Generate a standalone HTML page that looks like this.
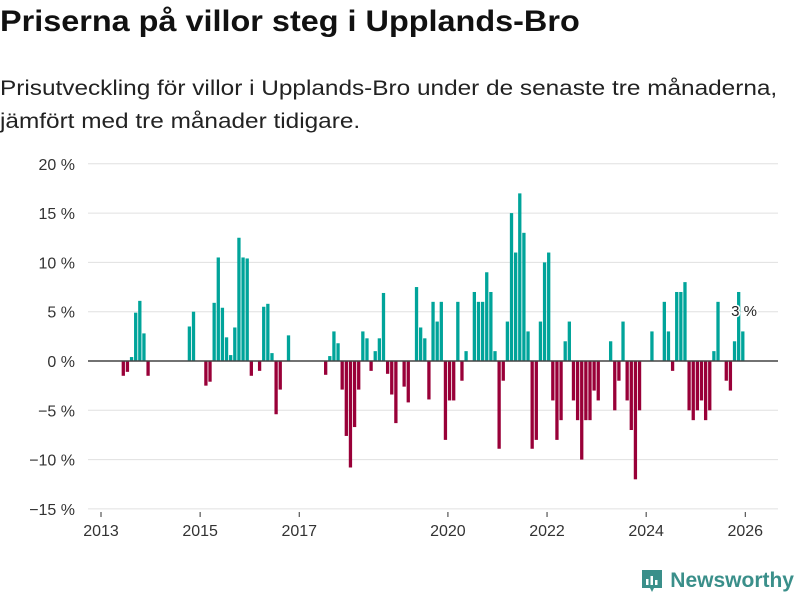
<!DOCTYPE html>
<html><head><meta charset="utf-8"><style>
body{margin:0;width:800px;height:600px;background:#fff;font-family:"Liberation Sans","DejaVu Sans",sans-serif;overflow:hidden;position:relative}
h1{position:absolute;left:0;top:5px;margin:0;font-size:30px;font-weight:bold;color:#111;transform:scaleX(1.08);transform-origin:0 0;white-space:nowrap}
.sub{position:absolute;left:0;margin:0;font-size:21px;color:#222;transform:scaleX(1.16);transform-origin:0 0;white-space:nowrap}
.logo{position:absolute;right:6px;top:568px;font-size:21px;font-weight:bold;color:#3a8f8a;display:flex;align-items:center;gap:6px}
</style></head><body>
<h1>Priserna på villor steg i Upplands-Bro</h1>
<div class="sub" style="top:77px">Prisutveckling för villor i Upplands-Bro under de senaste tre månaderna,</div>
<div class="sub" style="top:110px">jämfört med tre månader tidigare.</div>
<svg id="chart" width="800" height="600" style="position:absolute;left:0;top:0"></svg>
<div class="logo"><svg width="24" height="26" viewBox="0 0 24 26"><path d="M2 2h20v18h-8l-2 4-2-4H2z" fill="#3a8f8a"/><rect x="6" y="11" width="2.5" height="6" fill="#fff"/><rect x="10.5" y="8" width="2.5" height="9" fill="#fff"/><rect x="15" y="12" width="2.5" height="5" fill="#fff"/></svg><span>Newsworthy</span></div>
<script>
const months=[5,6,7,8,9,10,11,21,22,25,26,27,28,29,30,31,32,33,34,35,36,38,39,40,41,42,43,45,54,55,56,57,58,59,60,61,62,63,64,65,66,67,68,69,70,71,73,74,76,77,78,79,80,81,82,83,84,85,86,87,88,90,91,92,93,94,95,96,97,98,99,100,101,102,103,104,105,106,107,108,109,110,111,112,113,114,115,116,117,118,119,120,123,124,125,126,127,128,129,130,133,136,137,138,139,140,141,142,143,144,145,146,147,148,149,151,152,153,154,155];
const values=[-1.5,-1.1,0.4,4.9,6.1,2.8,-1.5,3.5,5.0,-2.5,-2.1,5.9,10.5,5.4,2.4,0.6,3.4,12.5,10.5,10.4,-1.5,-1,5.5,5.8,0.8,-5.4,-2.9,2.6,-1.4,0.5,3.0,1.8,-2.9,-7.6,-10.8,-6.7,-2.9,3.0,2.3,-1.0,1.0,2.3,6.9,-1.3,-3.4,-6.3,-2.6,-4.2,7.5,3.4,2.3,-3.9,6,4,6,-8,-4,-4,6,-2,1,7,6,6,9,7,1,-8.9,-2,4,15,11,17,13,3,-8.9,-8,4,10,11,-4,-8,-6,2,4,-4,-6,-10,-6,-6,-3,-4,2,-5,-2,4,-4,-7,-12,-5,3,6,3,-1,7,7,8,-5,-6,-5,-4,-6,-5,1,6,-2,-3,2,7,3];
const yTicks=[20,15,10,5,0,-5,-10,-15];
const xYears=[2013,2015,2017,2020,2022,2024,2026];
const svg=document.getElementById('chart');const NS='http://www.w3.org/2000/svg';
const y=v=>361-v*9.86;
const xm=m=>101+m*4.13;
const xy=yr=>xm((yr-2013)*12);
function el(t,a){const e=document.createElementNS(NS,t);for(const k in a)e.setAttribute(k,a[k]);svg.appendChild(e);return e;}
yTicks.forEach(v=>{
 const g=el('line',{x1:88,x2:778,y1:y(v),y2:y(v),stroke:'#e0e0e0','stroke-width':1});
 
 
 const t=el('text',{x:75,y:y(v)+6,'text-anchor':'end','font-size':16,fill:'#333'});
 t.textContent=(v<0?'\u2212'+(-v):v)+' %';
 
 
});
months.forEach((m,i)=>{
 const v=values[i];
 const r=el('rect',{x:xm(m),width:3.3,y:v>=0?y(v):y(0),height:Math.abs(v)*9.86,fill:v>=0?'#00a49a':'#990038'});
 
 
});
const z=el('line',{x1:88,x2:778,y1:y(0),y2:y(0),stroke:'#444','stroke-width':1.5});


xYears.forEach(yr=>{
 const tk=el('line',{x1:xy(yr),x2:xy(yr),y1:512,y2:517,stroke:'#333'});
 
 
 const t=el('text',{x:xy(yr),y:536,'text-anchor':'middle','font-size':16,fill:'#333'});
 t.textContent=yr;
 
 
});
const lb=el('text',{x:744,y:316,'text-anchor':'middle','font-size':15,fill:'#222',stroke:'#fff','stroke-width':3,'paint-order':'stroke'});
lb.textContent=values[values.length-1]+' %';


</script>
</body></html>
